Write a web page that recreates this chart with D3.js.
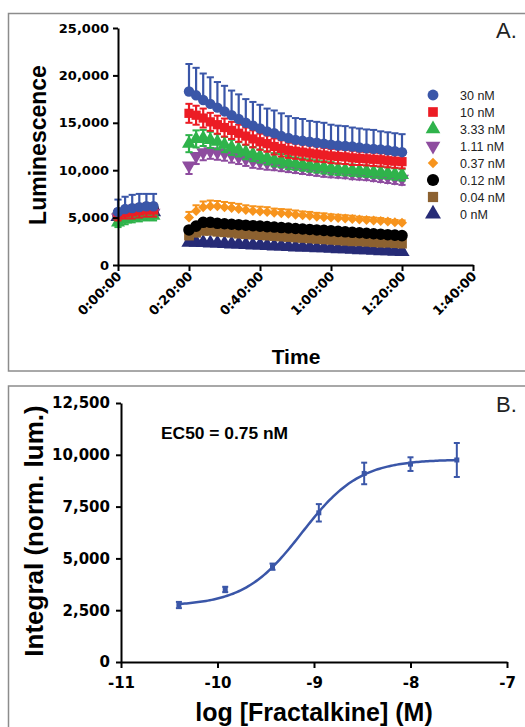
<!DOCTYPE html>
<html>
<head>
<meta charset="utf-8">
<script src="https://cdn.jsdelivr.net/npm/d3@7"></script>
<style>
  html, body { margin: 0; padding: 0; background: #fff; }
  svg { display: block; }
</style>
</head>
<body>
<div id="chart"></div>
<script>
// ---- Panel A data (time in minutes, luminescence) ----
var timeMin = [0, 2, 4, 6, 8, 10,
  20, 22, 24, 26, 28, 30, 32, 34, 36, 38, 40, 42, 44, 46, 48, 50,
  52, 54, 56, 58, 60, 62, 64, 66, 68, 70, 72, 74, 76, 78, 80];

var seriesNames = ["30 nM", "10 nM", "3.33 nM", "1.11 nM", "0.37 nM", "0.12 nM", "0.04 nM", "0 nM"];

var lum30 = [5600, 5900, 6000, 6100, 6200, 6200,
  18300, 17900, 17400, 17000, 16600, 16200, 15800, 15400, 15000, 14700, 14400, 14100, 13900, 13600, 13400, 13200,
  13100, 13000, 12900, 12800, 12700, 12600, 12550, 12500, 12400, 12300, 12250, 12200, 12100, 12000, 11900];
var err30 = [1300, 1300, 1400, 1400, 1300, 1300,
  2900, 2900, 2800, 2800, 2700, 2700, 2600, 2600, 2500, 2500, 2500, 2400, 2400, 2400, 2300, 2300,
  2300, 2200, 2200, 2200, 2100, 2100, 2100, 2000, 2000, 2000, 2000, 1900, 1900, 1900, 1900];

var lum10 = [5300, 5500, 5600, 5700, 5800, 5800,
  16000, 15800, 15500, 15100, 14800, 14500, 14200, 13900, 13600, 13300, 13000, 12800, 12500, 12300, 12100, 12000,
  11900, 11800, 11700, 11600, 11500, 11450, 11400, 11300, 11250, 11200, 11150, 11100, 11000, 10950, 10900];
var err10 = [600, 600, 700, 700, 700, 700,
  1000, 1000, 1000, 950, 950, 950, 900, 900, 900, 900, 850, 850, 850, 850, 800, 800,
  800, 800, 800, 750, 750, 750, 750, 750, 700, 700, 700, 700, 700, 700, 700];

var lum3_33 = [4500, 4800, 5000, 5100, 5200, 5200,
  12800, 13300, 13400, 13200, 13000, 12700, 12400, 12200, 11900, 11700, 11500, 11300, 11100, 11000, 10800, 10700,
  10600, 10500, 10400, 10300, 10200, 10100, 10050, 10000, 9950, 9900, 9800, 9750, 9700, 9600, 9500];
var err3_33 = [500, 500, 500, 500, 500, 500,
  900, 900, 850, 850, 800, 800, 800, 750, 750, 750, 700, 700, 700, 700, 700, 650,
  650, 650, 650, 650, 650, 600, 600, 600, 600, 600, 600, 600, 600, 600, 600];

var lum1_11 = [5000, 5200, 5300, 5400, 5500, 5500,
  10500, 11500, 11900, 12000, 11900, 11800, 11600, 11400, 11200, 11000, 10900, 10800, 10700, 10600, 10500, 10400,
  10300, 10200, 10100, 10000, 9900, 9850, 9800, 9700, 9650, 9600, 9500, 9400, 9300, 9200, 9100];
var err1_11 = [500, 500, 500, 500, 500, 500,
  900, 850, 850, 800, 800, 800, 800, 750, 750, 750, 750, 750, 700, 700, 700, 700,
  700, 700, 700, 700, 650, 650, 650, 650, 650, 650, 650, 650, 650, 650, 650];

var lum0_37 = [5400, 5600, 5700, 5800, 5900, 5900,
  5000, 5700, 6100, 6200, 6200, 6100, 6000, 5900, 5800, 5700, 5650, 5600, 5500, 5450, 5400, 5300,
  5250, 5200, 5100, 5050, 5000, 4950, 4900, 4850, 4800, 4750, 4700, 4650, 4600, 4500, 4450];
var err0_37 = [400, 400, 400, 400, 400, 400,
  600, 600, 600, 600, 550, 550, 550, 550, 500, 500, 500, 500, 450, 450, 450, 450,
  400, 400, 400, 400, 350, 350, 350, 350, 300, 300, 300, 300, 250, 250, 250];

var lum0_12 = [5300, 5500, 5600, 5700, 5800, 5800,
  3700, 4100, 4500, 4500, 4400, 4350, 4300, 4250, 4200, 4150, 4100, 4050, 4000, 3950, 3900, 3850,
  3800, 3750, 3700, 3650, 3600, 3550, 3500, 3450, 3400, 3350, 3300, 3250, 3200, 3150, 3100];
var err0_12 = [300, 300, 300, 300, 300, 300,
  250, 250, 250, 250, 250, 250, 250, 250, 250, 250, 250, 250, 250, 250, 250, 250,
  250, 250, 250, 250, 250, 250, 250, 250, 250, 250, 250, 250, 250, 250, 250];

var lum0_04 = [5200, 5400, 5500, 5600, 5700, 5700,
  3100, 3400, 3600, 3600, 3500, 3450, 3400, 3300, 3250, 3200, 3150, 3100, 3050, 3000, 2950, 2900,
  2850, 2800, 2750, 2700, 2650, 2600, 2550, 2500, 2500, 2450, 2400, 2350, 2350, 2300, 2250];
var err0_04 = [300, 300, 300, 300, 300, 300,
  200, 200, 200, 200, 200, 200, 200, 200, 200, 200, 200, 200, 200, 200, 200, 200,
  200, 200, 200, 200, 200, 200, 200, 200, 200, 200, 200, 200, 200, 200, 200];

var lum0 = [5100, 5300, 5400, 5500, 5600, 5600,
  2400, 2400, 2350, 2300, 2300, 2250, 2200, 2200, 2150, 2100, 2100, 2050, 2000, 2000, 1950, 1900,
  1900, 1850, 1800, 1800, 1750, 1700, 1700, 1650, 1600, 1600, 1550, 1500, 1500, 1450, 1400];
var err0 = [300, 300, 300, 300, 300, 300,
  150, 150, 150, 150, 150, 150, 150, 150, 150, 150, 150, 150, 150, 150, 150, 150,
  150, 150, 150, 150, 150, 150, 150, 150, 150, 150, 150, 150, 150, 150, 150];

var yTicksA = [0, 5000, 10000, 15000, 20000, 25000];
var xTicksA = [0, 20, 40, 60, 80, 100];
var xTickLabelsA = ["0:00:00", "0:20:00", "0:40:00", "1:00:00", "1:20:00", "1:40:00"];

// ---- Panel B data (dose response) ----
var logConc = [-10.4, -9.92, -9.43, -8.95, -8.48, -8.0, -7.52];
var integral = [2750, 3500, 4600, 7200, 9100, 9550, 9750];
var integralErr = [150, 130, 150, 420, 520, 330, 820];
// fitted 4PL parameters
var fitBottom = 2700, fitTop = 9780, fitLogEC50 = -9.125, fitHill = 1.45;
var xTicksB = [-11, -10, -9, -8, -7];
var yTicksB = [0, 2500, 5000, 7500, 10000, 12500];

// ---- styles ----
var colors = ["#3a56a8", "#ec1c24", "#2fb34b", "#8e4c9f", "#f7941d", "#000000", "#8c6130", "#262b76"];
var shapes = ["circle", "square", "triangle", "triangleDown", "diamond", "circle", "square", "triangle"];
var shapeSize = [85, 85, 85, 85, 50, 105, 95, 100];
var errDir = ["up", "both", "both", "down", "up", "both", "both", "up"];

var seriesData = [lum30, lum10, lum3_33, lum1_11, lum0_37, lum0_12, lum0_04, lum0];
var seriesErr = [err30, err10, err3_33, err1_11, err0_37, err0_12, err0_04, err0];

var tickFont = "'DejaVu Sans', sans-serif";
var labelFont = "'Liberation Sans', Arial, sans-serif";

var svg = d3.select("#chart").append("svg")
  .attr("width", 525)
  .attr("height", 727);

// panel frames
svg.append("rect")
  .attr("x", 8.5).attr("y", 13.5).attr("width", 530).attr("height", 357.5)
  .attr("fill", "none").attr("stroke", "#8c8c8c").attr("stroke-width", 1.5);
svg.append("rect")
  .attr("x", 8.5).attr("y", 386).attr("width", 530).attr("height", 360)
  .attr("fill", "none").attr("stroke", "#8c8c8c").attr("stroke-width", 1.5);

function symbolFor(shape, size) {
  var t = shape === "circle" ? d3.symbolCircle
    : shape === "square" || shape === "diamond" ? d3.symbolSquare
    : d3.symbolTriangle;
  return d3.symbol().type(t).size(size)();
}
function rotFor(shape) {
  if (shape === "triangleDown") return " rotate(180)";
  if (shape === "diamond") return " rotate(45)";
  return "";
}

function styleAxis(g, fontSize) {
  g.select(".domain").attr("stroke", "#000").attr("stroke-width", 2);
  g.selectAll(".tick line").attr("stroke", "#000").attr("stroke-width", 2);
  g.selectAll(".tick text")
    .attr("fill", "#000")
    .style("font-family", tickFont)
    .style("font-weight", "bold")
    .style("font-size", fontSize + "px");
}

// ================= Panel A =================
var xA = d3.scaleLinear().domain([0, 100]).range([118, 473]);
var yA = d3.scaleLinear().domain([0, 25000]).range([265, 28]);

var gA = svg.append("g");

// series, drawn from last to first so 30 nM sits on top
for (var s = seriesData.length - 1; s >= 0; s--) {
  var pts = timeMin.map(function (t, i) {
    return { t: t, v: seriesData[s][i], e: seriesErr[s][i] };
  });
  var sg = gA.append("g");
  var dir = errDir[s];
  var col = colors[s];

  var eb = sg.selectAll(".eb").data(pts).enter().append("g");
  eb.append("line")
    .attr("x1", d => xA(d.t)).attr("x2", d => xA(d.t))
    .attr("y1", d => yA(dir === "down" ? d.v : d.v + d.e))
    .attr("y2", d => yA(dir === "up" ? d.v : d.v - d.e))
    .attr("stroke", col).attr("stroke-width", 2.2);
  if (dir !== "down") {
    eb.append("line")
      .attr("x1", d => xA(d.t) - 3.6).attr("x2", d => xA(d.t) + 3.6)
      .attr("y1", d => yA(d.v + d.e)).attr("y2", d => yA(d.v + d.e))
      .attr("stroke", col).attr("stroke-width", 2);
  }
  if (dir !== "up") {
    eb.append("line")
      .attr("x1", d => xA(d.t) - 3.6).attr("x2", d => xA(d.t) + 3.6)
      .attr("y1", d => yA(d.v - d.e)).attr("y2", d => yA(d.v - d.e))
      .attr("stroke", col).attr("stroke-width", 2);
  }

  var path = symbolFor(shapes[s], shapeSize[s]);
  var rot = rotFor(shapes[s]);
  sg.selectAll(".pt").data(pts).enter().append("path")
    .attr("d", path)
    .attr("transform", d => `translate(${xA(d.t)},${yA(d.v)})${rot}`)
    .attr("fill", col);
}

var axisAy = gA.append("g")
  .attr("transform", "translate(118,0)")
  .call(d3.axisLeft(yA).tickValues(yTicksA).tickFormat(d3.format(",")).tickSize(5).tickPadding(4).tickSizeOuter(0));
styleAxis(axisAy, 13);

var axisAx = gA.append("g")
  .attr("transform", "translate(0,265)")
  .call(d3.axisBottom(xA).tickValues(xTicksA).tickFormat((d, i) => xTickLabelsA[i]).tickSize(6).tickSizeOuter(0));
styleAxis(axisAx, 13);
axisAx.selectAll(".tick text")
  .attr("x", 0).attr("y", 0).attr("dy", 0)
  .attr("transform", "translate(4,12) rotate(-45)")
  .style("text-anchor", "end");

gA.append("text")
  .attr("transform", "translate(46,145) rotate(-90)")
  .attr("text-anchor", "middle")
  .style("font-family", labelFont).style("font-weight", "bold").style("font-size", "23px")
  .text("Luminescence");

gA.append("text")
  .attr("x", 296).attr("y", 364)
  .attr("text-anchor", "middle")
  .style("font-family", labelFont).style("font-weight", "bold").style("font-size", "21px")
  .text("Time");

gA.append("text")
  .attr("x", 496).attr("y", 38)
  .style("font-family", labelFont).style("font-size", "22px").attr("fill", "#222")
  .text("A.");

// legend
var legend = gA.append("g");
seriesNames.forEach(function (name, i) {
  var ly = 95 + i * 17;
  legend.append("path")
    .attr("d", symbolFor(shapes[i], shapeSize[i] * 1.1))
    .attr("transform", `translate(433,${ly})${rotFor(shapes[i])}`)
    .attr("fill", colors[i]);
  legend.append("text")
    .attr("x", 460).attr("y", ly).attr("dy", "0.36em")
    .style("font-family", labelFont).style("font-size", "12.5px").attr("fill", "#222")
    .text(name);
});

// ================= Panel B =================
var xB = d3.scaleLinear().domain([-11, -7]).range([121, 507]);
var yB = d3.scaleLinear().domain([0, 12500]).range([662, 403]);
var gB = svg.append("g");
var blue = "#3a56a8";

var curve = d3.range(logConc[0], logConc[logConc.length - 1] + 0.001, 0.02).map(function (x) {
  return [x, fitBottom + (fitTop - fitBottom) / (1 + Math.pow(10, (fitLogEC50 - x) * fitHill))];
});
gB.append("path")
  .datum(curve)
  .attr("d", d3.line().x(d => xB(d[0])).y(d => yB(d[1])))
  .attr("fill", "none").attr("stroke", blue).attr("stroke-width", 2.5);

var ptsB = logConc.map((x, i) => ({ x: x, v: integral[i], e: integralErr[i] }));
var ebB = gB.selectAll(".ebB").data(ptsB).enter().append("g");
ebB.append("line")
  .attr("x1", d => xB(d.x)).attr("x2", d => xB(d.x))
  .attr("y1", d => yB(d.v + d.e)).attr("y2", d => yB(d.v - d.e))
  .attr("stroke", blue).attr("stroke-width", 2);
ebB.append("line")
  .attr("x1", d => xB(d.x) - 3).attr("x2", d => xB(d.x) + 3)
  .attr("y1", d => yB(d.v + d.e)).attr("y2", d => yB(d.v + d.e))
  .attr("stroke", blue).attr("stroke-width", 2);
ebB.append("line")
  .attr("x1", d => xB(d.x) - 3).attr("x2", d => xB(d.x) + 3)
  .attr("y1", d => yB(d.v - d.e)).attr("y2", d => yB(d.v - d.e))
  .attr("stroke", blue).attr("stroke-width", 2);
ebB.append("rect")
  .attr("x", d => xB(d.x) - 2.5).attr("y", d => yB(d.v) - 2.5)
  .attr("width", 5).attr("height", 5)
  .attr("fill", blue);

var axisBy = gB.append("g")
  .attr("transform", "translate(121,0)")
  .call(d3.axisLeft(yB).tickValues(yTicksB).tickFormat(d3.format(",")).tickSize(5).tickPadding(6).tickSizeOuter(0));
styleAxis(axisBy, 15);

var axisBx = gB.append("g")
  .attr("transform", "translate(0,662)")
  .call(d3.axisBottom(xB).tickValues(xTicksB).tickFormat(d => String(d)).tickSize(6).tickPadding(9).tickSizeOuter(0));
styleAxis(axisBx, 15);

gB.append("text")
  .attr("transform", "translate(43,531) rotate(-90)")
  .attr("text-anchor", "middle")
  .style("font-family", labelFont).style("font-weight", "bold").style("font-size", "26px")
  .text("Integral (norm. lum.)");

gB.append("text")
  .attr("x", 314).attr("y", 721)
  .attr("text-anchor", "middle")
  .style("font-family", labelFont).style("font-weight", "bold").style("font-size", "25px")
  .text("log [Fractalkine] (M)");

gB.append("text")
  .attr("x", 161).attr("y", 439)
  .style("font-family", labelFont).style("font-weight", "bold").style("font-size", "17.4px")
  .text("EC50 = 0.75 nM");

gB.append("text")
  .attr("x", 496).attr("y", 412)
  .style("font-family", labelFont).style("font-size", "22px").attr("fill", "#222")
  .text("B.");
</script>
</body>
</html>
